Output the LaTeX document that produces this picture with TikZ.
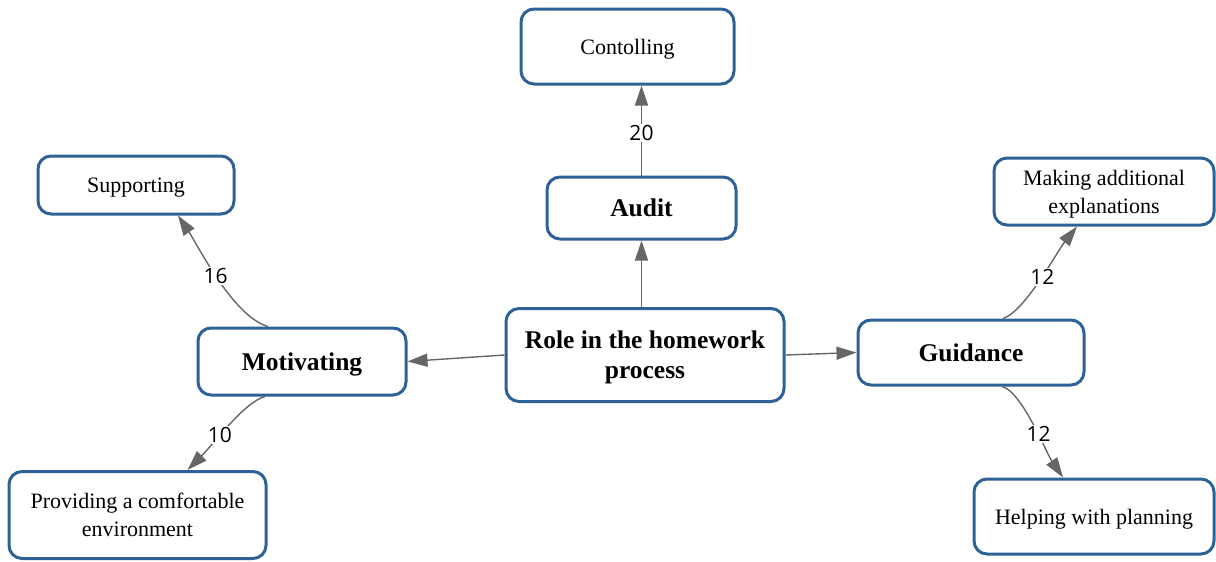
\documentclass[tikz,border=0pt]{standalone}
\usepackage{fontspec}
\setmainfont{Liberation Serif}
\newfontfamily\labfont{Open Sans}
\usetikzlibrary{arrows.meta}
\definecolor{boxblue}{RGB}{46,98,150}
\definecolor{conngray}{RGB}{102,102,102}
\begin{document}
\begin{tikzpicture}[x=1pt,y=-1pt,
  box/.style={draw=boxblue, line width=3pt, rounded corners=13pt, fill=white, inner sep=0pt, align=center, text depth=0pt, font=\fontsize{22}{28}\selectfont},
  mainbox/.style={box, font=\fontsize{25.5}{30}\selectfont\bfseries},
  conn/.style={draw=conngray, line width=1.4pt, -{Triangle[length=20pt,width=13pt]}},
  lab/.style={font=\labfont\fontsize{21}{24}\selectfont, fill=white, inner sep=1.5pt, text=black}]
\useasboundingbox (0,0) rectangle (1216,562);

\node[mainbox, minimum width=278pt, minimum height=93pt] (role) at (645,355) {Role in the homework\\process};
\node[mainbox, minimum width=189pt, minimum height=62pt] (audit) at (641.5,208) {Audit};
\node[box, minimum width=213pt, minimum height=75pt] (cont) at (627.5,46.5) {Contolling};
\node[mainbox, minimum width=208pt, minimum height=67pt] (mot) at (302,361.5) {Motivating};
\node[box, minimum width=196pt, minimum height=58pt] (sup) at (136,185) {Supporting};
\node[box, minimum width=257pt, minimum height=87pt] (prov) at (137.5,515) {Providing a comfortable\\environment};
\node[mainbox, minimum width=226pt, minimum height=65pt] (guid) at (971,352.5) {Guidance};
\node[box, minimum width=220pt, minimum height=67pt] (make) at (1104,191.5) {Making additional\\explanations};
\node[box, minimum width=240pt, minimum height=75pt] (help) at (1094,516.5) {Helping with planning};

\draw[conn] (audit.south |- role.north) -- (audit.south);
\draw[conn] (audit.north) -- (audit.north |- cont.south) node[pos=0.47, lab]{20};
\draw[conn] (role.west) -- (mot.east);
\draw[conn] (role.east) -- (guid.west);
\draw[conn] ([xshift=-34pt]mot.north) .. controls +(-35,-10) and +(20,30) .. ([xshift=42pt]sup.south) node[pos=0.52, lab]{16};
\draw[conn] ([xshift=-37pt]mot.south) .. controls +(-20,5) and +(25,-25) .. ([xshift=50pt]prov.north) node[pos=0.6, lab]{10};
\draw[conn] ([xshift=32pt]guid.north) .. controls +(22,-7) and +(-20,25) .. ([xshift=-27pt]make.south) node[pos=0.52, lab]{12};
\draw[conn] ([xshift=31pt]guid.south) .. controls +(20,5) and +(-17,-25) .. ([xshift=-31pt]help.north) node[pos=0.58, lab]{12};
\end{tikzpicture}
\end{document}
